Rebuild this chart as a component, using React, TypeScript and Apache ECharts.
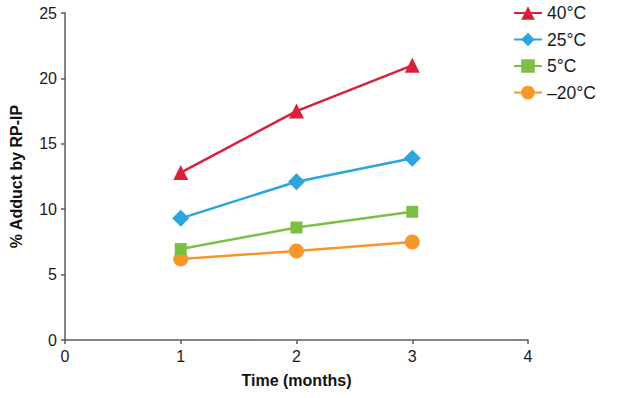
import React, { useEffect, useRef } from "react";
import * as echarts from "echarts";

const months = [1, 2, 3];
const seriesNames = ["40°C", "25°C", "5°C", "–20°C"];
const values40 = [12.8, 17.5, 21.0];
const values25 = [9.3, 12.1, 13.9];
const values5 = [6.95, 8.6, 9.8];
const valuesM20 = [6.2, 6.8, 7.5];
const colors = ["#d9213c", "#2aa5dd", "#7dbf45", "#f7972a"];
const symbols = ["triangle", "diamond", "rect", "circle"];
const symbolSizes = [15, 17, 12, 15];

export default function App() {
  const ref = useRef<HTMLDivElement>(null);
  useEffect(() => {
    document.body.style.margin = "0";
    const chart = echarts.init(ref.current!, null, { renderer: "svg" });
    const all = [values40, values25, values5, valuesM20];
    const font = "'Liberation Sans', Arial, sans-serif";
    chart.setOption({
      animation: false,
      grid: { left: 63, right: 100, top: 13, bottom: 58 },
      legend: {
        orient: "vertical",
        left: 508,
        top: -2,
        itemWidth: 28,
        itemHeight: 17,
        itemGap: 6.5,
        textStyle: { fontSize: 17.5, fontFamily: font, color: "#1a1a1a", lineHeight: 20, padding: [0, 0, 0, 0] },
        data: seriesNames,
      },
      xAxis: {
        type: "value",
        min: 0,
        max: 4,
        interval: 1,
        name: "Time (months)",
        nameLocation: "middle",
        nameGap: 32,
        nameTextStyle: { fontSize: 16, fontWeight: "bold", fontFamily: font, color: "#111" },
        axisLine: { lineStyle: { color: "#5a5a5a", width: 1.5 } },
        axisTick: { show: true, length: 4, lineStyle: { color: "#5a5a5a", width: 1.5 } },
        axisLabel: { fontSize: 16, fontFamily: font, color: "#1a1a1a", margin: 8 },
        splitLine: { show: false },
      },
      yAxis: {
        type: "value",
        min: 0,
        max: 25,
        interval: 5,
        name: "% Adduct by RP-IP",
        nameLocation: "middle",
        nameGap: 41,
        nameRotate: 90,
        nameTextStyle: { fontSize: 16, fontWeight: "bold", fontFamily: font, color: "#111" },
        axisLine: { show: true, lineStyle: { color: "#5a5a5a", width: 1.5 } },
        axisTick: { show: true, length: 4, lineStyle: { color: "#5a5a5a", width: 1.5 } },
        axisLabel: { fontSize: 16, fontFamily: font, color: "#1a1a1a", margin: 8 },
        splitLine: { show: false },
      },
      series: seriesNames.map((name, i) => ({
        name,
        type: "line",
        data: months.map((m, j) => [m, all[i][j]]),
        symbol: symbols[i],
        symbolSize: symbolSizes[i],
        showSymbol: true,
        color: colors[i],
        lineStyle: { color: colors[i], width: 2.5 },
        itemStyle: { color: colors[i] },
        z: 10 - i,
      })),
    });
    return () => chart.dispose();
  }, []);
  return <div ref={ref} style={{ width: 628, height: 398 }} />;
}
